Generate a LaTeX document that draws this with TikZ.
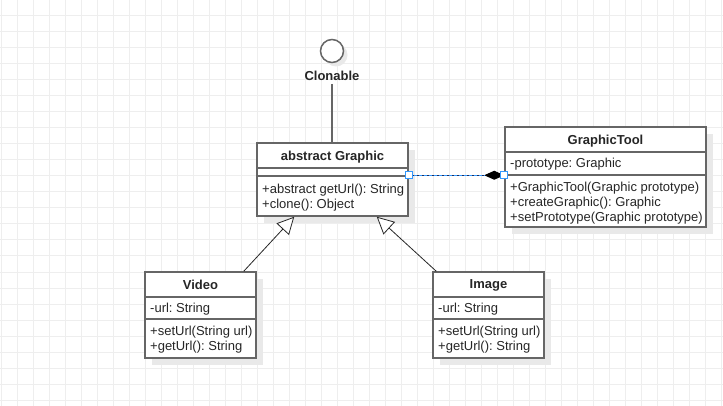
\documentclass[tikz,border=0pt]{standalone}
\usepackage{fontspec}
\setmainfont{Liberation Sans}
\usetikzlibrary{arrows.meta,shadows,calc}
\frenchspacing

\definecolor{gridgray}{RGB}{238,238,238}
\definecolor{boxgray}{RGB}{102,102,102}
\definecolor{shadegray}{RGB}{233,233,233}
\definecolor{handleblue}{RGB}{51,153,255}
\definecolor{linknavy}{RGB}{25,45,95}

\begin{document}
\begin{tikzpicture}[x=1pt,y=-1pt,
    classbox/.style={draw=boxgray, line width=1.5pt, fill=white, inner sep=0pt,
        general shadow={fill=shadegray, shadow xshift=7pt, shadow yshift=-7pt}},
    title/.style={font=\fontsize{13}{15}\selectfont\bfseries, text=black!85, inner sep=0pt},
    member/.style={font=\fontsize{13}{15}\selectfont, text=black!85, align=left, anchor=west, inner sep=0pt},
    sepline/.style={draw=boxgray, line width=1.5pt},
    inherit/.style={draw=black!85, line width=0.8pt,
        -{Triangle[open, fill=white, length=17pt, width=17pt, line width=0.8pt]}},
    handle/.style={draw=handleblue, fill=white, line width=1pt, minimum size=7pt, inner sep=0pt}
  ]
                    \useasboundingbox (0,0) rectangle (723,406);
                    \fill[white] (0,0) rectangle (723,406);
                    \foreach \gx in {1,17,...,721} {
                        \draw[gridgray, line width=1pt] (\gx,0) -- (\gx,406);
                    }
                    \foreach \gy in {0,16,...,400} {
                        \draw[gridgray, line width=1pt] (0,\gy) -- (723,\gy);
                    }

                    \node[circle, draw=boxgray, line width=1.5pt, fill=white, minimum size=23pt, inner sep=0pt,
                        general shadow={fill=shadegray, shadow xshift=4pt, shadow yshift=-4pt}] (clonable) at (332,51) {};
                    \node[title] (clonablelabel) at (332,76) {Clonable};

                    \node[classbox, minimum width=151pt, minimum height=73pt] (graphic) at (332.5,179.5) {};
                    \draw[sepline] (257,168) -- (408,168);
                    \draw[sepline] (257,176) -- (408,176);
                    \node[title] (graphictitle) at (332.5,157.5) {abstract Graphic};
                    \node[member] (graphicops) at (262,198) {+abstract getUrl(): String\\+clone(): Object};

                    \node[classbox, minimum width=201pt, minimum height=100pt] (tool) at (605.5,177) {};
                    \draw[sepline] (505,152) -- (706,152);
                    \draw[sepline] (505,175) -- (706,175);
                    \node[title] (tooltitle) at (605.5,141.5) {GraphicTool};
                    \node[member] (toolattrs) at (510,164.5) {-prototype: Graphic};
                    \node[member] (toolops) at (510,203.5) {+GraphicTool(Graphic prototype)\\+createGraphic(): Graphic\\+setPrototype(Graphic prototype)};

                    \node[classbox, minimum width=111pt, minimum height=86pt] (video) at (200.5,315) {};
                    \draw[sepline] (145,297) -- (256,297);
                    \draw[sepline] (145,319) -- (256,319);
                    \node[title] (videotitle) at (200.5,285) {Video};
                    \node[member] (videoattrs) at (150,309) {-url: String};
                    \node[member] (videoops) at (150,340) {+setUrl(String url)\\+getUrl(): String};

                    \node[classbox, minimum width=111pt, minimum height=86pt] (image) at (488.5,315) {};
                    \draw[sepline] (433,297) -- (544,297);
                    \draw[sepline] (433,319) -- (544,319);
                    \node[title] (imagetitle) at (488.5,285) {Image};
                    \node[member] (imageattrs) at (438,309) {-url: String};
                    \node[member] (imageops) at (438,340) {+setUrl(String url)\\+getUrl(): String};

                    \draw[boxgray, line width=1.5pt] (clonablelabel.south) ++(0,3) -- (clonablelabel.south |- graphic.north);

                    \coordinate (graphicport) at ($(graphic.north east)+(0,33)$);
                    \coordinate (toolport) at (tool.west |- graphicport);
                    \draw[linknavy, line width=1pt, -{Diamond[length=20pt, width=9pt, color=black]}] (graphicport) -- (toolport);
                    \draw[handleblue, line width=1pt, dash pattern=on 3pt off 2pt] (graphicport) -- ($(toolport)+(-20,0)$);
                    \node[handle] (graphichandle) at (graphicport) {};
                    \node[handle] (toolhandle) at (toolport) {};

                    \draw[inherit] ($(video.north east)+(-13,0)$) -- ($(graphic.south west)+(38,0)$);
                    \draw[inherit] ($(image.north west)+(4,0)$) -- ($(graphic.south east)+(-32,0)$);
\end{tikzpicture}
\end{document}
